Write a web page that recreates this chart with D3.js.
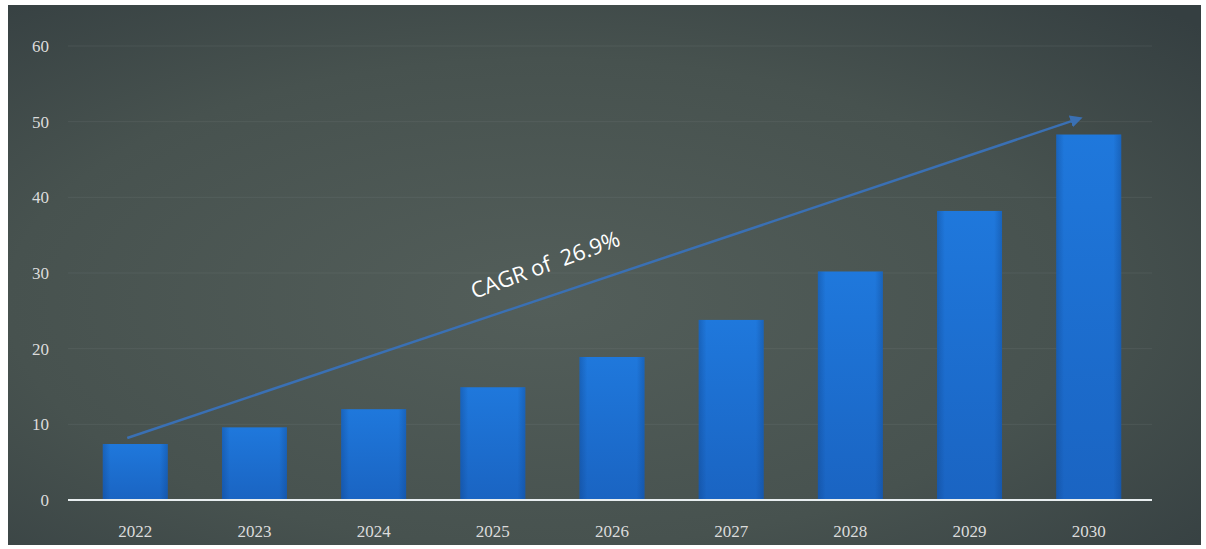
<!DOCTYPE html>
<html>
<head>
<meta charset="utf-8">
<script src="https://cdn.jsdelivr.net/npm/d3@7"></script>
<style>
  html, body { margin: 0; padding: 0; background: #ffffff; }
  svg { display: block; }
</style>
</head>
<body>
<svg id="chart" width="1206" height="549"></svg>
<script>
// Market size by year (values on a 0–60 scale)
const years = ["2022", "2023", "2024", "2025", "2026", "2027", "2028", "2029", "2030"];
const values = [7.4, 9.6, 12.0, 14.9, 18.9, 23.8, 30.2, 38.2, 48.3];
const yTicks = [0, 10, 20, 30, 40, 50, 60];
// Growth arrow runs from the first year to the last year
const arrowFrom = { year: "2022", value: 8.2 };
const arrowTo = { year: "2030", value: 50.3 };
const cagrLabel = "CAGR of  26.9%";

const svg = d3.select("#chart");

const defs = svg.append("defs");
const bg = defs.append("radialGradient").attr("id", "bg")
  .attr("cx", "45%").attr("cy", "55%").attr("r", "75%");
bg.append("stop").attr("offset", "0%").attr("stop-color", "#535e5a");
bg.append("stop").attr("offset", "60%").attr("stop-color", "#47524f");
bg.append("stop").attr("offset", "100%").attr("stop-color", "#353f41");

const barGrad = defs.append("linearGradient").attr("id", "bar")
  .attr("x1", 0).attr("y1", 0).attr("x2", 0).attr("y2", 1);
barGrad.append("stop").attr("offset", "0%").attr("stop-color", "#1f78dc");
barGrad.append("stop").attr("offset", "100%").attr("stop-color", "#1a64c2");

const barEdge = defs.append("linearGradient").attr("id", "barEdge")
  .attr("x1", 0).attr("y1", 0).attr("x2", 1).attr("y2", 0);
barEdge.append("stop").attr("offset", "0%").attr("stop-color", "#0d3d80").attr("stop-opacity", 0.35);
barEdge.append("stop").attr("offset", "12%").attr("stop-color", "#0d3d80").attr("stop-opacity", 0);
barEdge.append("stop").attr("offset", "88%").attr("stop-color", "#0d3d80").attr("stop-opacity", 0);
barEdge.append("stop").attr("offset", "100%").attr("stop-color", "#0d3d80").attr("stop-opacity", 0.35);

defs.append("marker").attr("id", "arrowHead")
  .attr("viewBox", "0 0 10 10").attr("refX", 5).attr("refY", 5)
  .attr("markerWidth", 5).attr("markerHeight", 5).attr("orient", "auto")
  .append("path").attr("d", "M0,0 L10,5 L0,10 z").attr("fill", "#3a70b4");

// Dark panel
svg.append("rect").attr("x", 8).attr("y", 5).attr("width", 1193).attr("height", 540)
  .attr("fill", "url(#bg)");

const margin = { left: 68, right: 1152, top: 46, bottom: 500 };

const x = d3.scaleBand().domain(years)
  .range([73, 1151]).paddingInner(0.455).paddingOuter(0.25);
const y = d3.scaleLinear().domain([0, 60]).range([margin.bottom, margin.top]);

// Faint horizontal gridlines
svg.append("g").selectAll("line").data(yTicks.filter(d => d > 0)).join("line")
  .attr("x1", margin.left).attr("x2", margin.right)
  .attr("y1", d => y(d)).attr("y2", d => y(d))
  .attr("stroke", "#7d8886").attr("stroke-opacity", 0.2).attr("stroke-width", 1);

// Y axis labels
const yAxis = d3.axisLeft(y).tickValues(yTicks).tickSize(0).tickPadding(0);
const gy = svg.append("g").attr("transform", "translate(49,0)").call(yAxis);
gy.select(".domain").remove();
gy.selectAll("text")
  .attr("fill", "#dcdcdc")
  .attr("font-family", "Liberation Serif, serif")
  .attr("font-size", 17);

// Bars
const bars = svg.append("g");
bars.selectAll("rect.bar").data(values).join("rect").attr("class", "bar")
  .attr("x", (d, i) => x(years[i]))
  .attr("y", d => y(d))
  .attr("width", x.bandwidth())
  .attr("height", d => y(0) - y(d))
  .attr("fill", "url(#bar)");
bars.selectAll("rect.edge").data(values).join("rect").attr("class", "edge")
  .attr("x", (d, i) => x(years[i]))
  .attr("y", d => y(d))
  .attr("width", x.bandwidth())
  .attr("height", d => y(0) - y(d))
  .attr("fill", "url(#barEdge)");

// Baseline
svg.append("line")
  .attr("x1", margin.left).attr("x2", margin.right)
  .attr("y1", y(0)).attr("y2", y(0))
  .attr("stroke", "#e8eef0").attr("stroke-width", 2);

// X axis labels
const xAxis = d3.axisBottom(x).tickSize(0).tickPadding(0);
const gx = svg.append("g").attr("transform", `translate(0,${y(0) + 25})`).call(xAxis);
gx.select(".domain").remove();
gx.selectAll("text")
  .attr("fill", "#dcdcdc")
  .attr("font-family", "Liberation Serif, serif")
  .attr("font-size", 17);

// Growth arrow
const ax1 = x(arrowFrom.year) + x.bandwidth() / 2 - 8;
const ay1 = y(arrowFrom.value);
const ax2 = x(arrowTo.year) + x.bandwidth() / 2 - 12;
const ay2 = y(arrowTo.value);
svg.append("line")
  .attr("x1", ax1).attr("y1", ay1).attr("x2", ax2).attr("y2", ay2)
  .attr("stroke", "#3a70b4").attr("stroke-width", 2.5)
  .attr("marker-end", "url(#arrowHead)");

// CAGR label along the arrow
const angle = Math.atan2(ay2 - ay1, ax2 - ax1) * 180 / Math.PI;
svg.append("text")
  .attr("transform", `translate(548,272) rotate(${angle - 1.5})`)
  .attr("text-anchor", "middle")
  .attr("fill", "#ffffff")
  .attr("font-family", "Open Sans, sans-serif")
  .attr("font-size", 22)
  .style("white-space", "pre")
  .text(cagrLabel);
</script>
</body>
</html>
